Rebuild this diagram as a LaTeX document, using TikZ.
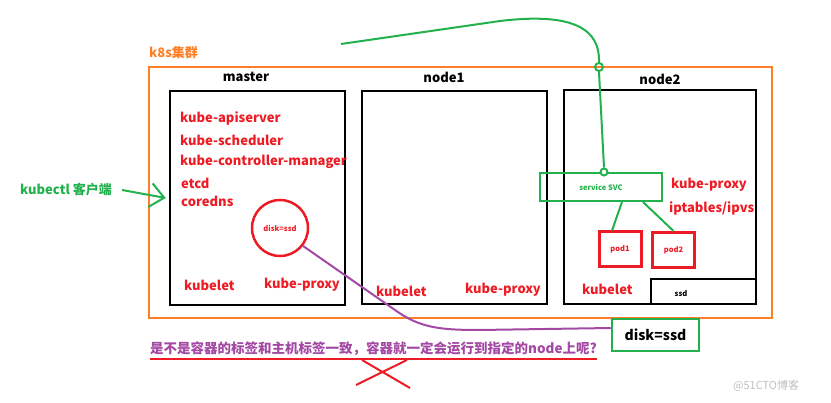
\documentclass[tikz,border=0pt]{standalone}
\usepackage{fontspec}
\setmainfont{Noto Sans CJK SC}
\usepackage{tikz}
\usetikzlibrary{arrows.meta,positioning,shapes}
\definecolor{paintred}{HTML}{ED1C24}
\definecolor{paintgreen}{HTML}{22B14C}
\definecolor{paintorange}{HTML}{FF7F27}
\definecolor{paintpurple}{HTML}{A349A4}
\tikzstyle{hostbox}=[
	rectangle,
	draw=black,
	line width=2.5,
	inner sep=0]
\tikzstyle{bigtxt}=[
	font=\bfseries\fontsize{13}{15}\selectfont,
	inner sep=0]
\tikzstyle{redtxt}=[bigtxt,text=paintred,anchor=west]
\tikzstyle{tinytxt}=[
	font=\bfseries\fontsize{7.5}{9}\selectfont,
	inner sep=0]
\tikzstyle{podbox}=[
	rectangle,
	draw=paintred,
	line width=3,
	minimum width=42,
	minimum height=35,
	tinytxt,
	text=paintred]

\begin{document}
\begin{tikzpicture}[x=1pt,y=-1pt,>={Straight Barb[length=14,width=24]}]
		\useasboundingbox (0,0) rectangle (831,403);
		\node[rectangle,draw=paintorange,line width=2,minimum width=623,minimum height=251] (cluster) at (460.5,192.5) {};
		\node[bigtxt,text=paintorange,anchor=west] (k8s) at (149,53) {k8s集群};
		\node[hostbox,minimum width=175,minimum height=214] (master) at (257.5,198) {};
		\node[hostbox,minimum width=185,minimum height=213] (node1) at (454.5,197.5) {};
		\node[hostbox,minimum width=192,minimum height=214] (node2) at (660,197) {};
		\node[bigtxt] (mastername) at (246,77) {master};
		\node[bigtxt] (node1name) at (444,77) {node1};
		\node[bigtxt] (node2name) at (660,79) {node2};
		\node[redtxt] (api) at (180,118) {kube-apiserver};
		\node[redtxt] (sched) at (180,140) {kube-scheduler};
		\node[redtxt] (ctrl) at (180,162) {kube-controller-manager};
		\node[redtxt] (etcd) at (181,183) {etcd};
		\node[redtxt] (dns) at (181,201) {coredns};
		\node[redtxt] (mkubelet) at (184,285) {kubelet};
		\node[redtxt] (mproxy) at (264,285) {kube-proxy};
		\node[circle,draw=paintred,line width=2.5,minimum size=56,tinytxt,text=paintred] (disk) at (280,228) {disk=ssd};
		\node[redtxt] (n1kubelet) at (376,291) {kubelet};
		\node[redtxt] (n1proxy) at (465,290) {kube-proxy};
		\node[rectangle,draw=paintgreen,line width=2,minimum width=122,minimum height=28,tinytxt,text=paintgreen] (svc) at (601,187) {service SVC};
		\node[podbox] (pod1) at (620,249.5) {pod1};
		\node[podbox] (pod2) at (673.5,250) {pod2};
		\node[redtxt] (n2proxy) at (671,185) {kube-proxy};
		\node[redtxt] (ipvs) at (669,208) {iptables/ipvs};
		\node[redtxt] (n2kubelet) at (582,289) {kubelet};
		\node[hostbox,minimum width=105,minimum height=25] (ssdbox) at (703.5,291.5) {};
		\node[tinytxt] (ssdtxt) at (681,294) {ssd};
		\node[rectangle,draw=paintgreen,line width=2.5,minimum width=87,minimum height=32,font=\bfseries\fontsize{14}{16}\selectfont] (label) at (655.5,335) {disk=ssd};
		\node[bigtxt,text=paintgreen,anchor=west] (kubectl) at (20,190) {kubectl 客户端};
		\node[bigtxt,text=paintpurple,anchor=west,font=\bfseries\fontsize{13.5}{15}\selectfont] (ask) at (150,349) {是不是容器的标签和主机标签一致，容器就一定会运行到指定的node上呢?};
		\node[text=black!25,inner sep=0,anchor=west,font=\fontsize{11}{13}\selectfont] (mark) at (733,386) {@51CTO博客};
		\node[circle,draw=paintgreen,line width=2,minimum size=8,inner sep=0] (hole) at (599,67) {};
		\node[circle,draw=paintgreen,fill=white,line width=2,minimum size=7,inner sep=0] (tap) at (604,172) {};
		\coordinate (start) at (341,44);
		\coordinate (xa) at (356,385);
		\coordinate (xb) at (407,360);
		\coordinate (xc) at (362,360);
		\coordinate (xd) at (410,388);
		\draw[paintgreen,line width=2] (start) -- (500,21) .. controls (575,12) and (600,30) .. (hole.north);
		\draw[paintgreen,line width=2] (hole.south) -- (tap.north);
		\draw[paintgreen,line width=2] ([xshift=21]svc.south) -- ([xshift=-8]pod1.north);
		\draw[paintgreen,line width=2] ([xshift=42]svc.south) -- (pod2.north);
		\draw[->,paintgreen,line width=2] ([xshift=10]kubectl.east) -- ([xshift=-3]master.west);
		\draw[paintpurple,line width=2] (disk.-38) -- (395,310) .. controls (420,328) and (440,330) .. (480,330) -- ([yshift=7]label.west);
		\draw[paintred,line width=2] ([yshift=-3]ask.south west) -- ([yshift=-3]ask.south east);
		\draw[paintred,line width=2] (xa) -- (xb);
		\draw[paintred,line width=2] (xc) -- (xd);
	\end{tikzpicture}
\end{document}
